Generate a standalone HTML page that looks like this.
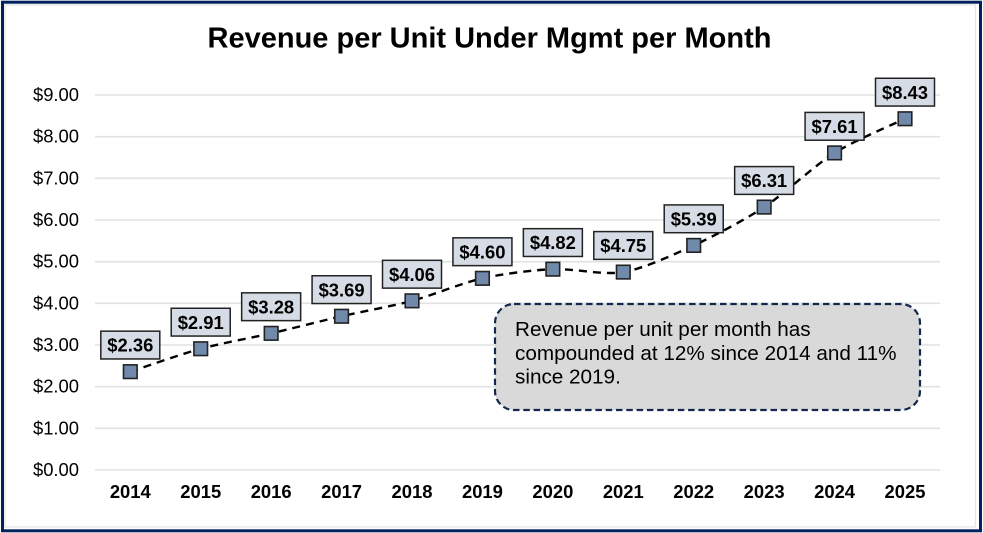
<!DOCTYPE html>
<html lang="en">
<head>
<meta charset="utf-8">
<title>Revenue per Unit Under Mgmt per Month</title>
<style>
html,body{margin:0;padding:0;background:#fff;width:983px;height:533px;overflow:hidden}
svg{display:block;font-family:"Liberation Sans",Arial,sans-serif}
</style>
</head>
<body>
<svg id="chart" width="983" height="533" viewBox="0 0 983 533" xmlns="http://www.w3.org/2000/svg">
  <rect x="0" y="0" width="983" height="533" fill="#ffffff"/>
  <rect x="2.5" y="2.2" width="978" height="528.6" fill="none" stroke="#002060" stroke-width="3"/>
  <rect x="5" y="5" width="970.5" height="522" fill="none" stroke="#e4e4e4" stroke-width="1.2"/>
  <text x="489.5" y="47.5" text-anchor="middle" font-size="29" font-weight="700" fill="#000">Revenue per Unit Under Mgmt per Month</text>
  <g id="grid"></g>
  <g id="y-labels"></g>
  <g id="x-labels"></g>
  <path id="trend" fill="none" stroke="#000" stroke-width="2.4" stroke-dasharray="8 6"/>
  <g id="labels"></g>
  <g id="markers"></g>
  <g>
    <rect x="495" y="304" width="425" height="106" rx="19" ry="19" fill="#d9d9d9" stroke="#14284f" stroke-width="2.2" stroke-dasharray="6.5 3.8"/>
    <text font-size="20.7" fill="#000">
      <tspan x="515" y="336">Revenue per unit per month has</tspan>
      <tspan x="515" y="360">compounded at 12% since 2014 and 11%</tspan>
      <tspan x="515" y="383.5">since 2019.</tspan>
    </text>
  </g>
</svg>
<script>
const categories = ['2014','2015','2016','2017','2018','2019','2020','2021','2022','2023','2024','2025'];
const seriesValues = [2.36,2.91,3.28,3.69,4.06,4.60,4.82,4.75,5.39,6.31,7.61,8.43];
const valueLabels = ['$2.36','$2.91','$3.28','$3.69','$4.06','$4.60','$4.82','$4.75','$5.39','$6.31','$7.61','$8.43'];
const yTicks = [0,1,2,3,4,5,6,7,8,9];
const yTickLabels = ['$0.00','$1.00','$2.00','$3.00','$4.00','$5.00','$6.00','$7.00','$8.00','$9.00'];

const NS = 'http://www.w3.org/2000/svg';
function xScale(i){ return 130.3 + i * (905 - 130.3) / (categories.length - 1); }
function yScale(v){ return 470 - v * (470 - 95) / 9; }
function make(tag, attrs, text){
  const el = document.createElementNS(NS, tag);
  for (const k in attrs) el.setAttribute(k, attrs[k]);
  if (text !== undefined) el.textContent = text;
  return el;
}

const grid = document.getElementById('grid');
const yLabelGroup = document.getElementById('y-labels');
yTicks.forEach(function(t, i){
  const line = make('line', {x1:95, x2:940, y1:yScale(t), y2:yScale(t), stroke:'#e2e2e2', 'stroke-width':1.6});
  
  
  grid.appendChild(line);
  const label = make('text', {x:79, y:yScale(t) + 6, 'text-anchor':'end', 'font-size':18.4, fill:'#000'}, yTickLabels[i]);
  
  
  yLabelGroup.appendChild(label);
});

const xLabelGroup = document.getElementById('x-labels');
categories.forEach(function(c, i){
  const label = make('text', {x:xScale(i), y:498, 'text-anchor':'middle', 'font-size':18.4, 'font-weight':700, fill:'#000'}, c);
  
  
  xLabelGroup.appendChild(label);
});

const pts = seriesValues.map(function(v, i){ return [xScale(i), yScale(v)]; });
let d = 'M' + pts[0][0] + ' ' + pts[0][1];
for (let i = 0; i < pts.length - 1; i++){
  const p0 = pts[Math.max(i - 1, 0)], p1 = pts[i], p2 = pts[i + 1], p3 = pts[Math.min(i + 2, pts.length - 1)];
  const c1x = p1[0] + (p2[0] - p0[0]) / 7, c1y = p1[1] + (p2[1] - p0[1]) / 7;
  const c2x = p2[0] - (p3[0] - p1[0]) / 7, c2y = p2[1] - (p3[1] - p1[1]) / 7;
  d += ' C' + c1x + ' ' + c1y + ' ' + c2x + ' ' + c2y + ' ' + p2[0] + ' ' + p2[1];
}
document.getElementById('trend').setAttribute('d', d);

const labelGroup = document.getElementById('labels');
const markerGroup = document.getElementById('markers');
seriesValues.forEach(function(v, i){
  const x = xScale(i), y = yScale(v);
  const box = make('rect', {x:x - 29.5, y:y - 40.5, width:59, height:27.8, fill:'#d6dce5', stroke:'#222', 'stroke-width':1.5});
  
  
  labelGroup.appendChild(box);
  const txt = make('text', {x:x, y:y - 20, 'text-anchor':'middle', 'font-size':18.4, 'font-weight':700, fill:'#000'}, valueLabels[i]);
  
  
  labelGroup.appendChild(txt);
  const marker = make('rect', {x:x - 6.8, y:y - 6.8, width:13.6, height:13.6, fill:'#7189ab', stroke:'#222', 'stroke-width':1.6});
  
  
  markerGroup.appendChild(marker);
});
</script>
</body>
</html>
